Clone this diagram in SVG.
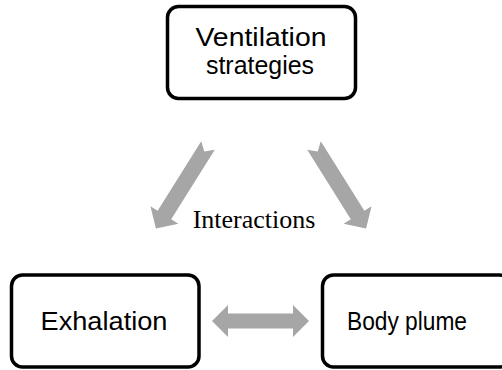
<svg xmlns="http://www.w3.org/2000/svg" width="502" height="370" viewBox="0 0 502 370">
<style>
.box{fill:#fff;stroke:#000;stroke-width:3.5}
.lbl{font-family:"Liberation Sans",Arial,sans-serif;font-size:26px;fill:#000;text-anchor:middle}
.conn{fill:#a6a6a6;stroke:none}
.ser{font-family:"Liberation Serif","Times New Roman",serif;font-size:26px;fill:#000;text-anchor:middle}
</style>
<defs>
<path id="blk" d="M0,-8 L82,-8 L82,-16.5 L98,0 L82,16.5 L82,8 L0,8 L7,0 Z"/>
</defs>
<rect width="502" height="370" fill="#fff"/>
<g id="connectors">
<use href="#blk" class="conn" transform="translate(208,145.5) rotate(122.1)"/>
<use href="#blk" class="conn" transform="translate(314,145.5) rotate(57.9)"/>
<path class="conn" d="M212,321 L228,305 L228,313.5 L293,313.5 L293,305 L309,321 L293,337 L293,328.5 L228,328.5 L228,337 Z"/>
<text class="ser" x="254" y="228">Interactions</text>
</g>
<g id="ventilation">
<rect class="box" x="167.5" y="6.5" width="188" height="92" rx="11"/>
<text class="lbl" x="261" y="46" textLength="131" lengthAdjust="spacingAndGlyphs">Ventilation</text>
<text class="lbl" x="260" y="74" textLength="108" lengthAdjust="spacingAndGlyphs">strategies</text>
</g>
<g id="exhalation">
<rect class="box" x="11.5" y="275" width="187.5" height="92" rx="11"/>
<text class="lbl" x="104" y="330" textLength="127" lengthAdjust="spacingAndGlyphs">Exhalation</text>
</g>
<g id="bodyplume">
<rect class="box" x="322.5" y="275" width="188" height="92" rx="11"/>
<text class="lbl" x="407" y="330" textLength="120" lengthAdjust="spacingAndGlyphs">Body plume</text>
</g>
</svg>
